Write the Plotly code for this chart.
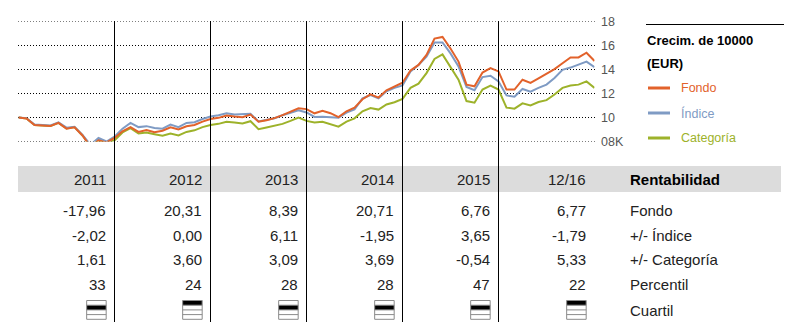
import plotly.graph_objects as go

W, H = 796, 335

# ---------------- data ----------------
fondo = [10.0, 9.92, 9.38, 9.35, 9.3, 9.55, 9.07, 9.19, 8.5, 7.55, 8.1, 7.92,
         8.3, 8.85, 9.19, 8.8, 8.95, 8.78, 8.9, 9.19, 9.0, 9.27, 9.38, 9.66,
         9.88, 9.97, 10.17, 10.08, 10.03, 10.24, 9.65, 9.77, 9.95, 10.2, 10.47, 10.77,
         10.7, 10.35, 10.55, 10.36, 10.03, 10.52, 10.82, 11.52, 11.93, 11.66, 12.26, 12.56,
         12.9, 13.92, 14.38, 15.21, 16.58, 16.71, 15.75, 14.66, 12.74, 12.6, 13.75, 14.11,
         13.84, 12.33, 12.33, 13.15, 12.88, 13.26, 13.64, 14.03, 14.52, 15.01, 15.01, 15.4,
         14.71]
indice = [10.0, 9.95, 9.42, 9.38, 9.33, 9.6, 9.15, 9.22, 8.55, 7.72, 8.3, 8.0,
          8.4, 9.07, 9.55, 9.2, 9.28, 9.12, 9.07, 9.41, 9.2, 9.55, 9.6, 9.87,
          10.08, 10.19, 10.36, 10.25, 10.25, 10.31, 9.67, 9.81, 9.94, 10.19, 10.42, 10.61,
          10.42, 10.05, 10.06, 10.02, 9.98, 10.41, 10.68, 11.59, 11.86, 11.59, 12.19, 12.47,
          12.68, 13.84, 14.38, 15.07, 16.25, 16.25, 15.34, 14.25, 12.55, 12.27, 13.37, 13.48,
          13.01, 11.84, 11.73, 12.38, 12.16, 12.47, 12.74, 13.29, 13.97, 14.16, 14.38, 14.66,
          14.19]
categoria = [10.0, 9.92, 9.37, 9.33, 9.3, 9.55, 9.08, 9.2, 8.5, 7.6, 8.1, 7.85,
             8.1, 8.75, 9.12, 8.67, 8.75, 8.61, 8.48, 8.67, 8.51, 8.8, 8.93, 9.2,
             9.38, 9.47, 9.64, 9.58, 9.5, 9.69, 9.03, 9.17, 9.31, 9.47, 9.72, 10.0,
             9.72, 9.58, 9.64, 9.46, 9.24, 9.65, 9.93, 10.52, 10.78, 10.66, 11.09, 11.27,
             11.55, 12.47, 12.82, 13.7, 14.88, 15.26, 14.25, 13.15, 11.37, 11.23, 12.33, 12.66,
             12.33, 10.82, 10.74, 11.18, 11.01, 11.29, 11.45, 11.92, 12.47, 12.66, 12.74, 13.01,
             12.47]
months = list(range(len(fondo)))  # month index, Dec 2010 .. Dec 2016

y_tickvals = [8, 10, 12, 14, 16, 18]
y_ticktext = ["08K", "10", "12", "14", "16", "18"]

years = ["2011", "2012", "2013", "2014", "2015", "12/16"]
year_ends = [12, 24, 36, 48, 60, 72]
ret_fondo = [-17.96, 20.31, 8.39, 20.71, 6.76, 6.77]
ret_indice = [-2.02, 0.00, 6.11, -1.95, 3.65, -1.79]
ret_categoria = [1.61, 3.60, 3.09, 3.69, -0.54, 5.33]
percentil = [33, 24, 28, 28, 47, 22]
cuartil = [2, 1, 2, 2, 2, 1]
row_labels = ["Fondo", "+/- Índice", "+/- Categoría", "Percentil", "Cuartil"]

series_names = ["Fondo", "Índice", "Categoría"]
colors = {"Fondo": "#E2622B", "Índice": "#7F9BC4", "Categoría": "#9DB22A"}

FONT = "Liberation Sans, Arial, sans-serif"
TXT = "#222222"


def py(ypx):
    return 1 - ypx / H


def px(xpx):
    return xpx / W


fig = go.Figure()
for name, vals in [("Categoría", categoria), ("Índice", indice), ("Fondo", fondo)]:
    fig.add_trace(go.Scatter(x=months, y=vals, mode="lines", name=name,
                             line=dict(color=colors[name], width=2),
                             showlegend=False, hoverinfo="skip"))

shapes = []
annotations = []

# dotted horizontal guides at each tick value
for tv in y_tickvals:
    shapes.append(dict(type="line", xref="paper", yref="y", x0=px(18), x1=px(597),
                       y0=tv, y1=tv, layer="below",
                       line=dict(color="black", width=1, dash="1px,2px")))

# gray header band
shapes.append(dict(type="rect", xref="paper", yref="paper",
                   x0=px(18), x1=px(781), y0=py(192), y1=py(166),
                   fillcolor="#DCDCDC", line=dict(width=0), layer="below"))
# vertical year separators
for xe in year_ends[:-1]:
    shapes.append(dict(type="line", xref="x", yref="paper", x0=xe, x1=xe,
                       y0=py(322), y1=py(21), line=dict(color="black", width=1)))

# table text
TS = 15
row_y = [210, 235, 259, 284]
fmt = lambda v: f"{v:.2f}".replace(".", ",")
for k, xe in enumerate(year_ends):
    xr = xe - 0.85
    annotations.append(dict(x=xr, y=py(179), xref="x", yref="paper", text=years[k],
                            showarrow=False, xanchor="right", yanchor="middle",
                            font=dict(size=TS, color=TXT, family=FONT)))
    vals = [fmt(ret_fondo[k]), fmt(ret_indice[k]), fmt(ret_categoria[k]), str(percentil[k])]
    for ry, v in zip(row_y, vals):
        annotations.append(dict(x=xr, y=py(ry), xref="x", yref="paper", text=v,
                                showarrow=False, xanchor="right", yanchor="middle",
                                font=dict(size=TS, color=TXT, family=FONT)))
    # quartile icon
    x1 = xe - 1.04
    x0 = x1 - 2.44
    top, rowh = 300.5, 4.7
    q = cuartil[k]
    shapes.append(dict(type="rect", xref="x", yref="paper", x0=x0, x1=x1,
                       y0=py(top + rowh * q), y1=py(top + rowh * (q - 1)),
                       fillcolor="black", line=dict(width=0)))
    shapes.append(dict(type="rect", xref="x", yref="paper", x0=x0, x1=x1,
                       y0=py(top + rowh * 4), y1=py(top),
                       fillcolor="rgba(0,0,0,0)", line=dict(color="#8a8a8a", width=1)))
    for r in (1, 2, 3):
        shapes.append(dict(type="line", xref="x", yref="paper", x0=x0, x1=x1,
                           y0=py(top + rowh * r), y1=py(top + rowh * r),
                           line=dict(color="#8a8a8a", width=1)))

# row labels
annotations.append(dict(x=px(628), y=py(179), xref="paper", yref="paper",
                        text="<b>Rentabilidad</b>", showarrow=False, xanchor="left",
                        yanchor="middle", font=dict(size=TS, color="black", family=FONT)))
for ry, lab in zip(row_y + [310], row_labels):
    annotations.append(dict(x=px(628), y=py(ry), xref="paper", yref="paper", text=lab,
                            showarrow=False, xanchor="left", yanchor="middle",
                            font=dict(size=TS, color=TXT, family=FONT)))

# legend block
shapes.append(dict(type="line", xref="paper", yref="paper", x0=px(646), x1=px(784),
                   y0=py(24.5), y1=py(24.5), line=dict(color="black", width=1)))
annotations.append(dict(x=px(645), y=py(40), xref="paper", yref="paper",
                        text="<b>Crecim. de 10000</b>", showarrow=False, xanchor="left",
                        yanchor="middle", font=dict(size=13, color="black", family=FONT)))
annotations.append(dict(x=px(645), y=py(64), xref="paper", yref="paper",
                        text="<b>(EUR)</b>", showarrow=False, xanchor="left",
                        yanchor="middle", font=dict(size=13, color="black", family=FONT)))
for ly, name in zip([88, 113, 138], series_names):
    shapes.append(dict(type="line", xref="paper", yref="paper", x0=px(648), x1=px(670),
                       y0=py(ly), y1=py(ly), line=dict(color=colors[name], width=3)))
    annotations.append(dict(x=px(679), y=py(ly), xref="paper", yref="paper", text=name,
                            showarrow=False, xanchor="left", yanchor="middle",
                            font=dict(size=12.5, color=colors[name], family=FONT)))

fig.update_layout(
    width=W, height=H,
    margin=dict(l=0, r=0, t=0, b=0, pad=0, autoexpand=False),
    paper_bgcolor="white", plot_bgcolor="rgba(0,0,0,0)",
    shapes=shapes, annotations=annotations,
    xaxis=dict(domain=[px(18.5), px(594.5)], range=[0, 72], visible=False,
               fixedrange=True, automargin=False),
    yaxis=dict(domain=[py(141.5), py(21.5)], range=[8, 18], side="right",
               tickvals=y_tickvals, ticktext=y_ticktext, automargin=False,
               showgrid=False, zeroline=False, showline=False,
               ticks="outside", ticklen=3, tickcolor="rgba(0,0,0,0)", fixedrange=True,
               tickfont=dict(size=12.5, color="#555555", family=FONT)),
)

fig.write_html("out.html")
